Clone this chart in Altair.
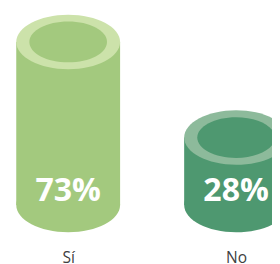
import altair as alt
import pandas as pd

categories = ["Sí", "No"]
values = [73, 28]
labels = ["73%", "28%"]
base = [0, 0]

body_colors = ["#A3C97E", "#4E9870"]
ring_colors = ["#CCE2AA", "#8DBA9B"]

df = pd.DataFrame({"cat": categories, "value": values, "label": labels, "base": base})

ELL = "M-1,0A1,0.525,0,1,0,1,0A1,0.525,0,1,0,-1,0Z"

x = alt.X("cat:N", sort=categories, title=None,
          scale=alt.Scale(type="point", domain=categories, range=[62, 235], padding=0),
          axis=alt.Axis(domain=False, ticks=False, labelAngle=0, labelFontSize=16,
                        labelFont="Open Sans", labelColor="#404040", labelPadding=10,
                        labelBaseline="alphabetic", grid=False))
yscale = alt.Scale(domain=[0, 100], range=[190.8, -28.1], nice=False, zero=False)

def col(rng):
    return alt.Color("cat:N", scale=alt.Scale(domain=categories, range=rng), legend=None)

basec = alt.Chart(df)

bottom = basec.mark_point(shape=ELL, size=11449, filled=True, opacity=1, strokeWidth=0, yOffset=8.2).encode(
    x=x, y=alt.Y("base:Q", scale=yscale, axis=None), color=col(body_colors))
body = basec.mark_bar(size=107, y2Offset=8.2).encode(
    x=x, y=alt.Y("value:Q", scale=yscale, axis=None), y2="base:Q", color=col(body_colors))
ring = basec.mark_point(shape=ELL, size=11449, filled=True, opacity=1, strokeWidth=0).encode(
    x=x, y=alt.Y("value:Q", scale=yscale, axis=None), color=col(ring_colors))
inner = basec.mark_point(shape=ELL, size=6400, filled=True, opacity=1, strokeWidth=0).encode(
    x=x, y=alt.Y("value:Q", scale=yscale, axis=None), color=col(body_colors))
text = basec.mark_text(font="Open Sans", fontWeight="bold", fontSize=33, color="white",
                       baseline="middle", dy=-6).encode(
    x=x, y=alt.Y("base:Q", scale=yscale, axis=None), text="label:N")

chart = alt.layer(bottom, body, ring, inner, text).resolve_scale(color="independent").properties(
    width=272, height=248,
    padding=alt.Padding(left=0, top=0, right=0, bottom=16),
    autosize=alt.AutoSizeParams(type="none")
).configure_view(strokeWidth=0)

chart.save("out.html", embed_options={"renderer": "svg", "actions": False})
